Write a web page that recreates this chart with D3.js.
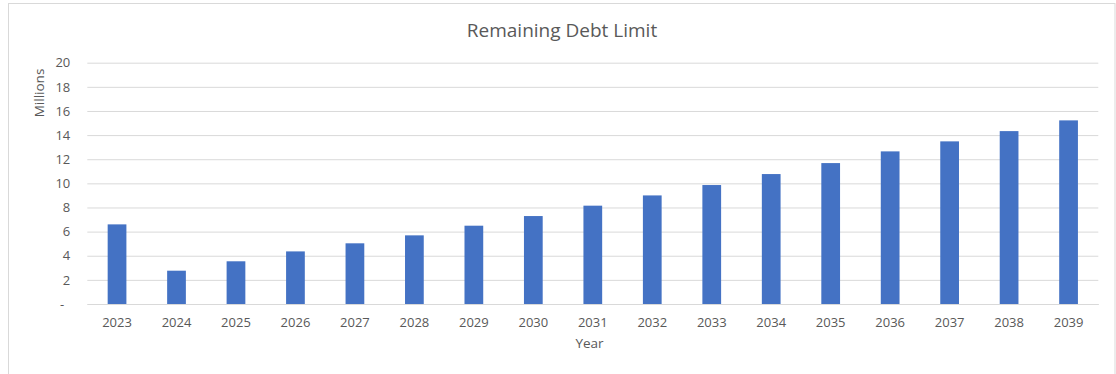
<!DOCTYPE html>
<html>
<head>
<meta charset="utf-8">
<script src="https://cdn.jsdelivr.net/npm/d3@7"></script>
<style>
  html, body { margin: 0; padding: 0; background: #fff; }
  svg { display: block; }
  text { font-family: "Open Sans", "Noto Sans", sans-serif; fill: #595959; }
</style>
</head>
<body>
<svg id="chart" width="1116" height="374"></svg>
<script>
const years = ["2023","2024","2025","2026","2027","2028","2029","2030","2031","2032","2033","2034","2035","2036","2037","2038","2039"];
const remaining = [6.60, 2.76, 3.54, 4.36, 5.03, 5.69, 6.49, 7.29, 8.15, 9.00, 9.86, 10.77, 11.68, 12.65, 13.48, 14.33, 15.22];
const yTicks = [0, 2, 4, 6, 8, 10, 12, 14, 16, 18, 20];
const titleText = "Remaining Debt Limit";
const xTitle = "Year";
const yTitle = "Millions";

const svg = d3.select("#chart");
const plot = { left: 87.3, right: 1098.3, top: 62.7, bottom: 304 };

// chart border
svg.append("rect")
  .attr("x", 8.5).attr("y", 3.5)
  .attr("width", 1106.5).attr("height", 380)
  .attr("fill", "#fff").attr("stroke", "#d9d9d9").attr("stroke-width", 1);

const x = d3.scaleBand()
  .domain(years)
  .range([plot.left, plot.right])
  .paddingInner(0.685)
  .paddingOuter(0.3425);

const y = d3.scaleLinear()
  .domain([0, 20])
  .range([plot.bottom, plot.top]);

// gridlines + y labels
const yAxis = d3.axisLeft(y)
  .tickValues(yTicks)
  .tickSize(-(plot.right - plot.left))
  .tickPadding(17)
  .tickFormat(d => d === 0 ? "-" : d3.format("d")(d));

const gy = svg.append("g")
  .attr("transform", `translate(${plot.left},0)`)
  .call(yAxis);
gy.select(".domain").remove();
gy.selectAll(".tick line").attr("stroke", "#d9d9d9").attr("stroke-width", 1);
gy.selectAll(".tick text")
  .attr("font-size", 13)
  .attr("fill", "#595959")
  .style("font-family", '"Open Sans", sans-serif');
gy.selectAll(".tick").filter(d => d === 0).select("text").attr("dx", -6);

// bars
svg.append("g").selectAll("rect")
  .data(years.map((yr, i) => ({ yr, v: remaining[i] })))
  .join("rect")
  .attr("x", d => x(d.yr))
  .attr("y", d => y(d.v))
  .attr("width", x.bandwidth())
  .attr("height", d => y(0) - y(d.v))
  .attr("fill", "#4472c4");

// x axis
const xAxis = d3.axisBottom(x).tickSize(0).tickPadding(13.5);
const gx = svg.append("g")
  .attr("transform", `translate(0,${plot.bottom})`)
  .call(xAxis);
gx.select(".domain").attr("stroke", "#d9d9d9").attr("stroke-width", 1);
gx.selectAll(".tick text")
  .attr("font-size", 13)
  .attr("fill", "#595959")
  .style("font-family", '"Open Sans", sans-serif');

// title
svg.append("text")
  .attr("x", 562).attr("y", 37)
  .attr("text-anchor", "middle")
  .attr("font-size", 19)
  .text(titleText);

// axis titles
svg.append("text")
  .attr("x", 589.5).attr("y", 347.5)
  .attr("text-anchor", "middle")
  .attr("font-size", 13.5)
  .text(xTitle);

svg.append("text")
  .attr("transform", "translate(44,93) rotate(-90)")
  .attr("text-anchor", "middle")
  .attr("font-size", 13.5)
  .text(yTitle);
</script>
</body>
</html>
